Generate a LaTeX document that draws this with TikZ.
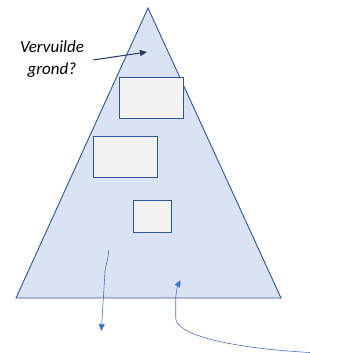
\documentclass[tikz,border=0pt]{standalone}
\usepackage{fontspec}
\setmainfont{Carlito}
\usetikzlibrary{arrows.meta}
\definecolor{trifill}{HTML}{DAE3F3}
\definecolor{triline}{HTML}{2F5597}
\definecolor{boxfill}{HTML}{F2F2F2}
\definecolor{thinarrow}{HTML}{4472C4}
\definecolor{navy}{HTML}{1F3864}
\tikzset{
  box/.style={draw=triline, fill=boxfill, line width=0.9pt, inner sep=0pt, anchor=north west},
  thin/.style={draw=thinarrow, line width=0.6pt, -{Triangle[length=7pt,width=6pt]}},
}
\begin{document}
\begin{tikzpicture}[x=1pt,y=-1pt]
\useasboundingbox (0,0) rectangle (353,353);
% triangle
\coordinate (apex) at (148,8);
\coordinate (bl) at (16,298);
\coordinate (br) at (281,298);
\filldraw[fill=trifill, draw=triline, line width=0.9pt, line join=miter] (apex) -- (br) -- (bl) -- cycle;
% boxes
\node[box, minimum width=64pt, minimum height=41pt] (b1) at (118.5,77) {};
\node[box, minimum width=64pt, minimum height=41pt] (b2) at (93,135.5) {};
\node[box, minimum width=38pt, minimum height=32pt] (b3) at (133,200) {};
% label
\node[font=\fontsize{17}{22}\selectfont\itshape, align=center] (lbl) at (52,59) {Vervuilde\\grond?};
\coordinate (lblend) at (147,52);
\draw[navy, line width=1pt, -{Triangle[length=7pt,width=6pt]}] (93,60) -- (lblend);
% thin arrows
\coordinate (s1) at (108.7,250);
\coordinate (e1) at (101.3,331);
\draw[thin] (s1) .. controls (108,262) and (105,266) .. (105,272) -- (e1);
\coordinate (s2) at (310,352.5);
\coordinate (e2) at (180.5,280);
\draw[thin] (s2) .. controls (230,348) and (176,335) .. (175.7,318) -- (175.7,300) .. controls (175.7,292) and (178,285) .. (e2);
\end{tikzpicture}
\end{document}
